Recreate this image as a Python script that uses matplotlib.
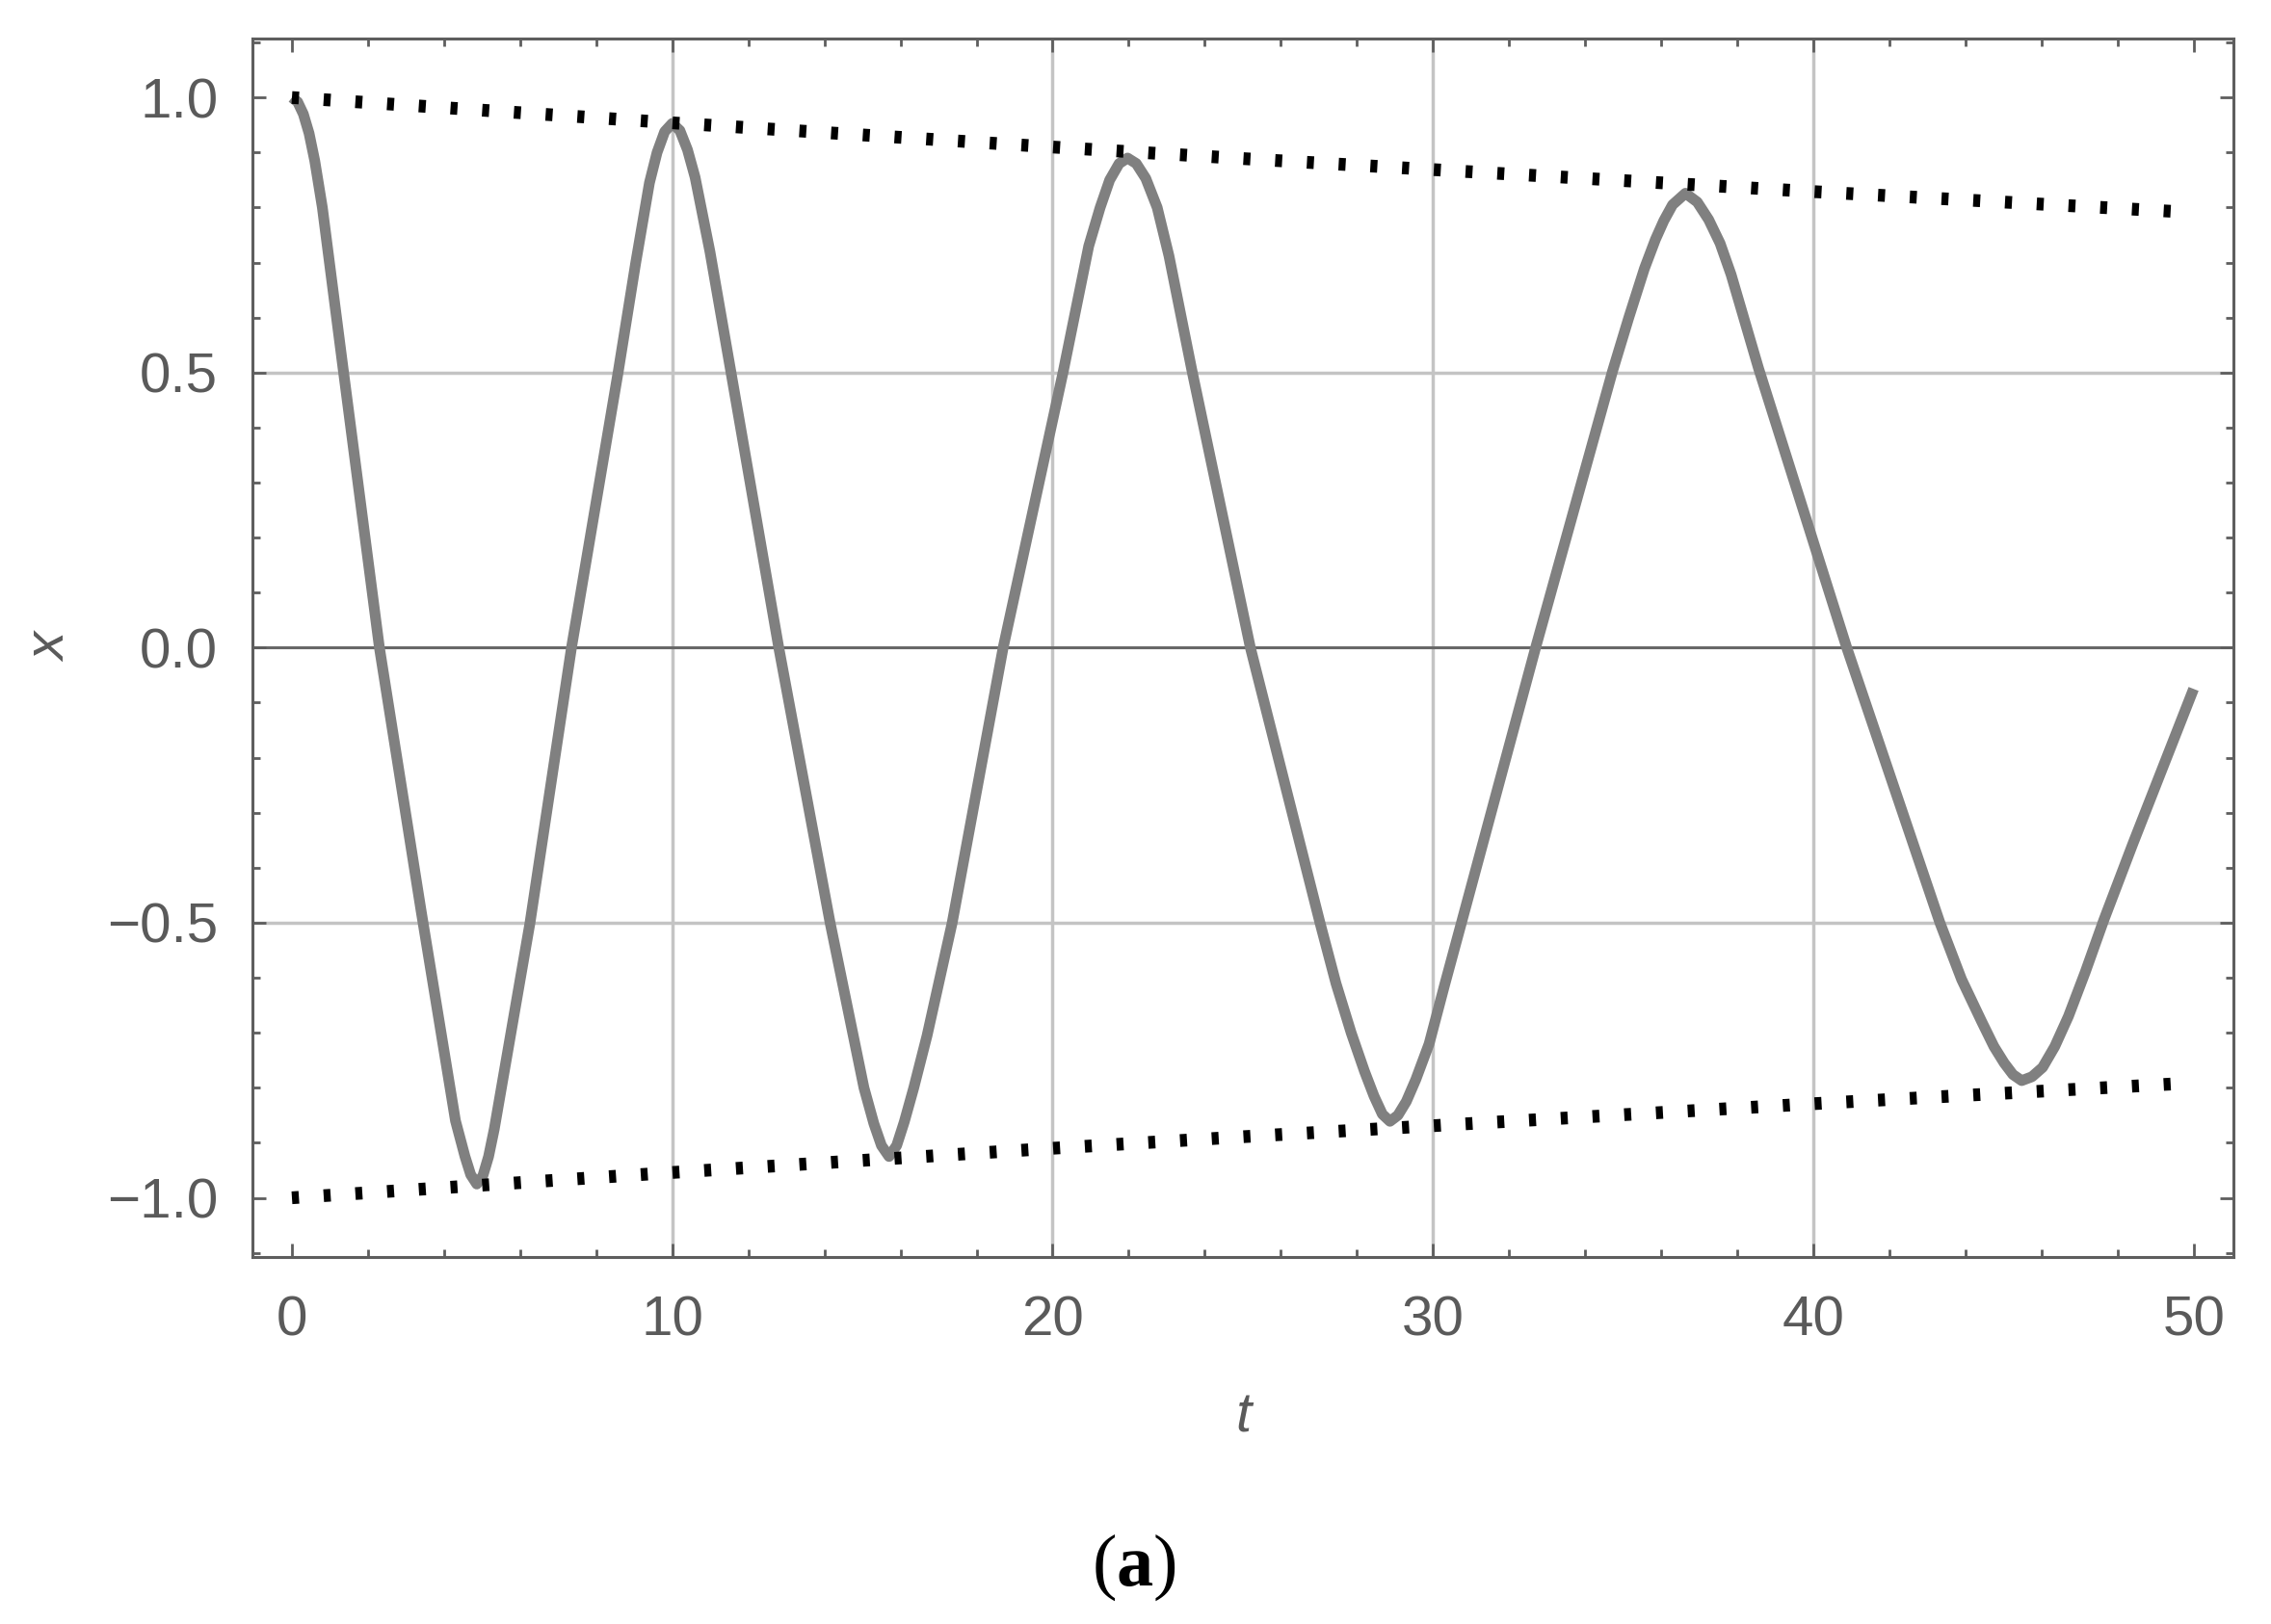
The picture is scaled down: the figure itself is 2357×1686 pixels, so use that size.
import matplotlib
matplotlib.use("Agg")
import matplotlib.pyplot as plt
from matplotlib.ticker import MultipleLocator, FixedLocator, FixedFormatter

# values
t_vals = [0.00, 0.15, 0.30, 0.45, 0.60, 0.80, 1.34, 2.30, 3.40, 4.30, 4.55, 4.70, 4.86,
          5.02, 5.17, 5.32, 6.26, 7.35, 8.58, 9.04, 9.40, 9.60, 9.80, 10.00, 10.20,
          10.40, 10.60, 10.99, 11.54, 12.80, 14.15, 15.04, 15.30, 15.50, 15.70, 15.90,
          16.10, 16.35, 16.70, 17.36, 18.70, 20.28, 20.95, 21.25, 21.50, 21.75, 21.97,
          22.20, 22.45, 22.75, 23.06, 23.66, 25.20, 27.03, 27.45, 27.85, 28.20, 28.45,
          28.67, 28.87, 29.08, 29.30, 29.55, 29.90, 30.30, 30.75, 32.70, 34.72, 35.15,
          35.56, 35.85, 36.07, 36.30, 36.64, 36.95, 37.25, 37.55, 37.84, 38.56, 40.88,
          43.33, 43.90, 44.43, 44.75, 45.02, 45.25, 45.48, 45.75, 46.03, 46.35, 46.71,
          47.15, 47.64, 48.40, 50.00]
x_vals = [1.000, 0.992, 0.970, 0.935, 0.885, 0.800, 0.510, 0.000, -0.480, -0.860, -0.925, -0.958, -0.975,
          -0.960, -0.925, -0.875, -0.500, 0.000, 0.502, 0.700, 0.845, 0.900, 0.938, 0.953, 0.940,
          0.905, 0.855, 0.720, 0.502, 0.000, -0.500, -0.800, -0.865, -0.905, -0.925, -0.905,
          -0.862, -0.800, -0.705, -0.500, 0.000, 0.502, 0.730, 0.800, 0.850, 0.880, 0.890,
          0.880, 0.853, 0.800, 0.712, 0.505, 0.000, -0.500, -0.610, -0.700, -0.770, -0.815,
          -0.848, -0.861, -0.850, -0.825, -0.785, -0.720, -0.615, -0.500, 0.000, 0.502, 0.600,
          0.689, 0.742, 0.776, 0.805, 0.826, 0.810, 0.778, 0.735, 0.678, 0.508, 0.000,
          -0.500, -0.603, -0.680, -0.725, -0.755, -0.776, -0.787, -0.780, -0.763, -0.725, -0.670,
          -0.590, -0.495, -0.357, -0.075]

env_t = [0, 5, 10, 15, 20, 25, 30, 35, 40, 45, 50]
env_upper = [1.000, 0.977, 0.954, 0.932, 0.910, 0.889, 0.869, 0.849, 0.829, 0.810, 0.791]
env_lower = [-1.000, -0.977, -0.954, -0.932, -0.910, -0.889, -0.869, -0.849, -0.829, -0.810, -0.791]

x_ticks = [0, 10, 20, 30, 40, 50]
y_ticks = [-1.0, -0.5, 0.0, 0.5, 1.0]
y_tick_labels = ["\u22121.0", "\u22120.5", "0.0", "0.5", "1.0"]
grid_t = [10, 20, 30, 40]
grid_x = [-0.5, 0.5]

frame_col = "#5e5e5e"
text_col = "#5a5a5a"

plt.rcParams["font.family"] = ["Liberation Sans", "DejaVu Sans"]
plt.rcParams["mathtext.fontset"] = "custom"
plt.rcParams["mathtext.rm"] = "Liberation Serif"
plt.rcParams["mathtext.bf"] = "Liberation Serif:bold"

fig = plt.figure(figsize=(23.57, 16.86), dpi=100)
ax = fig.add_axes([0.1113, 0.2262, 0.8722, 0.75])

# grid and zero line
for g in grid_t:
    ax.axvline(g, color="#c4c4c4", lw=2.5, zorder=1)
for g in grid_x:
    ax.axhline(g, color="#c4c4c4", lw=2.5, zorder=1)
ax.axhline(0, color="#686868", lw=2.2, zorder=1)

# solution curve
ax.plot(t_vals, x_vals, color="#808080", lw=8, solid_joinstyle="round",
        solid_capstyle="butt", zorder=3)

# envelopes
for env in (env_upper, env_lower):
    ax.plot(env_t, env, color="black", lw=9.5, linestyle=(0, (0.55, 1.95)),
            dash_capstyle="butt", zorder=4)

ax.set_xlim(-1.03, 51.05)
ax.set_ylim(-1.107, 1.107)

ax.xaxis.set_major_locator(FixedLocator(x_ticks))
ax.xaxis.set_minor_locator(MultipleLocator(2))
ax.yaxis.set_major_locator(FixedLocator(y_ticks))
ax.yaxis.set_major_formatter(FixedFormatter(y_tick_labels))
ax.yaxis.set_minor_locator(MultipleLocator(0.1))

ax.tick_params(which="both", direction="in", top=True, right=True,
               color=frame_col, labelcolor=text_col, labelsize=42)
ax.tick_params(which="major", length=10, width=2)
ax.tick_params(which="minor", length=5.5, width=2)
ax.tick_params(axis="x", pad=29)
ax.tick_params(axis="y", pad=26)

for s in ax.spines.values():
    s.set_color(frame_col)
    s.set_linewidth(2.2)

ax.set_xlabel("t", fontsize=42, style="italic", color=text_col, labelpad=33)
ax.set_ylabel("x", fontsize=42, style="italic", color=text_col, labelpad=22)

fig.text(0.4995, 0.035, r"$\mathrm{(}\mathbf{a}\mathrm{)}$", fontsize=55,
         ha="center", va="center", color="black")

fig.savefig("out.png", dpi=100, facecolor="white")
